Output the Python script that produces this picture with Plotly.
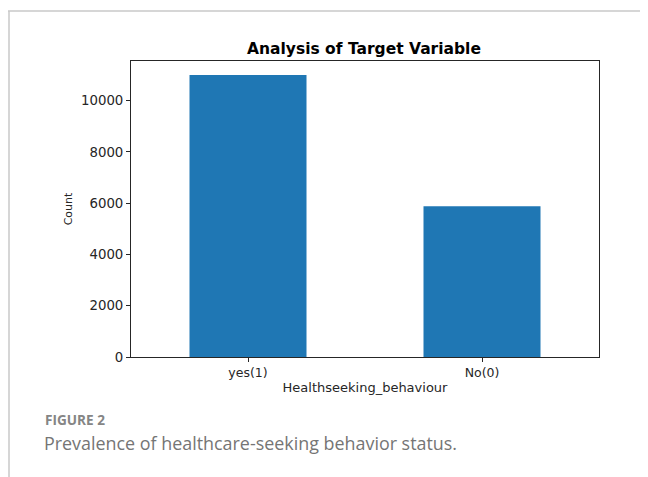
import plotly.graph_objects as go

# data
categories = ["yes(1)", "No(0)"]
counts = [11000, 5880]
y_ticks = [0, 2000, 4000, 6000, 8000, 10000]

# the page body has an 8px margin, so the figure is drawn 8px smaller and
# every reference pixel position is shifted by OFF
OFF = 8
W, H = 648 - OFF, 477 - OFF
PLOT_L, PLOT_R, PLOT_T, PLOT_B = 131 - OFF, 599 - OFF, 61 - OFF, 357 - OFF
BAR_COLOR = "#1f77b4"
AXIS_COLOR = "#262626"
TEXT_COLOR = "#262626"
CAPTION_COLOR = "#757575"
BORDER_COLOR = "#c8c8c8"
MPL_FONT = "DejaVu Sans"


def px_x(px):
    return (px - OFF - PLOT_L) / (PLOT_R - PLOT_L)


def px_y(py):
    return (PLOT_B - (py - OFF)) / (PLOT_B - PLOT_T)


fig = go.Figure()
fig.add_trace(go.Bar(
    x=list(range(len(categories))),
    y=counts,
    width=0.5,
    marker={"color": BAR_COLOR, "line": {"width": 0}},
    showlegend=False,
))

axis_common = {
    "showline": True,
    "mirror": True,
    "linecolor": AXIS_COLOR,
    "linewidth": 1,
    "ticks": "outside",
    "ticklen": 4,
    "tickwidth": 1,
    "tickcolor": AXIS_COLOR,
    "showgrid": False,
    "zeroline": False,
}

fig.update_xaxes(
    range=[-0.5, 1.5],
    tickvals=list(range(len(categories))),
    ticktext=categories,
    tickfont={"family": MPL_FONT, "size": 12.5, "color": TEXT_COLOR},
    title={"text": "Healthseeking_behaviour", "standoff": 3,
           "font": {"family": MPL_FONT, "size": 13, "color": TEXT_COLOR}},
    **axis_common,
)
fig.update_yaxes(
    range=[0, max(counts) * 1.05],
    tickvals=y_ticks,
    ticktext=[str(v) for v in y_ticks],
    tickfont={"family": MPL_FONT, "size": 13.3, "color": TEXT_COLOR},
    title={"text": "Count", "standoff": 6,
           "font": {"family": MPL_FONT, "size": 11, "color": TEXT_COLOR}},
    **axis_common,
)

fig.update_layout(
    width=W,
    height=H,
    margin={"l": PLOT_L, "r": W - PLOT_R, "t": PLOT_T, "b": H - PLOT_B, "pad": 0},
    paper_bgcolor="#FFFFFF",
    plot_bgcolor="#FFFFFF",
    title={
        "text": "<b>Analysis of Target Variable</b>",
        "x": px_x(364), "xref": "paper", "xanchor": "center",
        "y": 1 - (49 - OFF) / H, "yanchor": "middle",
        "font": {"family": MPL_FONT, "size": 15.5, "color": "#000000"},
    },
    annotations=[
        {
            "text": "<b>FIGURE 2</b>",
            "xref": "paper", "yref": "paper",
            "x": px_x(43), "y": px_y(420),
            "xanchor": "left", "yanchor": "middle",
            "showarrow": False,
            "font": {"family": "Open Sans, sans-serif", "size": 13.6, "color": "#858585"},
        },
        {
            "text": "Prevalence of healthcare-seeking behavior status.",
            "xref": "paper", "yref": "paper",
            "x": px_x(42), "y": px_y(443),
            "xanchor": "left", "yanchor": "middle",
            "showarrow": False,
            "font": {"family": "Open Sans, sans-serif", "size": 17.9, "color": CAPTION_COLOR},
        },
    ],
    shapes=[
        # page frame: top rule and left rule
        {"type": "line", "xref": "paper", "yref": "paper",
         "x0": px_x(8), "x1": px_x(660), "y0": px_y(11), "y1": px_y(11),
         "line": {"color": BORDER_COLOR, "width": 1.5}},
        {"type": "line", "xref": "paper", "yref": "paper",
         "x0": px_x(9), "x1": px_x(9), "y0": px_y(11), "y1": px_y(490),
         "line": {"color": BORDER_COLOR, "width": 1.5}},
    ],
)

fig.write_html("out.html")
